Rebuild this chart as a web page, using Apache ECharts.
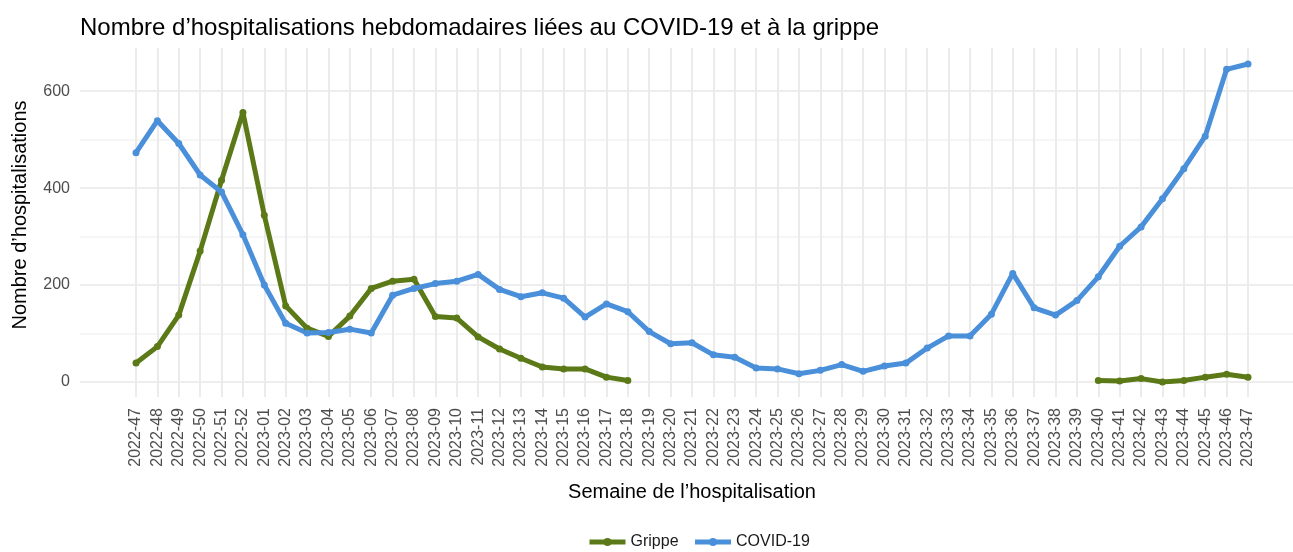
<!DOCTYPE html>
<html lang="fr">
<head>
<meta charset="UTF-8">
<title>Hospitalisations COVID-19 et grippe</title>
<style>
  * { margin: 0; }
  html, body, #chart { width: 1293px; height: 552px; background: #fff; }
</style>
</head>
<body>
<div id="chart"></div>
<script src="https://cdn.jsdelivr.net/npm/echarts@6/dist/echarts.min.js"></script>
<script>
var weeks = ['2022-47', '2022-48', '2022-49', '2022-50', '2022-51', '2022-52',
  '2023-01', '2023-02', '2023-03', '2023-04', '2023-05', '2023-06', '2023-07', '2023-08',
  '2023-09', '2023-10', '2023-11', '2023-12', '2023-13', '2023-14', '2023-15', '2023-16',
  '2023-17', '2023-18', '2023-19', '2023-20', '2023-21', '2023-22', '2023-23', '2023-24',
  '2023-25', '2023-26', '2023-27', '2023-28', '2023-29', '2023-30', '2023-31', '2023-32',
  '2023-33', '2023-34', '2023-35', '2023-36', '2023-37', '2023-38', '2023-39', '2023-40',
  '2023-41', '2023-42', '2023-43', '2023-44', '2023-45', '2023-46', '2023-47'];

var grippe = [39, 73, 138, 270, 416, 556,
  344, 157, 111, 94, 136, 193, 208, 212, 135, 132, 93, 68, 49, 31, 27, 27, 10, 3,
  null, null, null, null, null, null, null, null, null, null, null,
  null, null, null, null, null, null, null, null, null, null,
  3, 2, 7, 0, 3, 10, 16, 10];

var covid = [473, 539, 492, 427, 392, 304,
  200, 121, 101, 102, 109, 101, 179, 193, 203, 208, 222, 191, 176, 184, 173, 134,
  161, 145, 104, 79, 81, 56, 51, 29, 27, 17, 24, 36, 22, 33, 39, 70, 95, 95,
  140, 224, 153, 138, 168, 217, 280, 320, 378, 440, 507, 645, 656];

var yTicks = [0, 200, 400, 600];

var font = 'Liberation Sans, Arial, sans-serif';
var green = '#5b7a17';
var blue = '#4a8fd9';
var yMax = 689;

var chart = echarts.init(document.getElementById('chart'));

function lineSeries(name, data, color) {
  return {
    name: name,
    type: 'line',
    xAxisIndex: 1,
    yAxisIndex: 1,
    data: data,
    symbol: 'circle',
    symbolSize: 7,
    showSymbol: true,
    connectNulls: false,
    itemStyle: { color: color },
    lineStyle: { color: color, width: 5 },
    emphasis: { disabled: true },
    z: 3
  };
}

var option = {
  animation: false,
  textStyle: { fontFamily: font },
  title: {
    text: 'Nombre d’hospitalisations hebdomadaires liées au COVID-19 et à la grippe',
    left: 75,
    top: 11,
    textStyle: { fontFamily: font, fontSize: 24, fontWeight: 'normal', color: '#000' }
  },
  legend: {
    bottom: -3,
    left: 582,
    itemWidth: 36,
    itemHeight: 10,
    itemGap: 14,
    lineStyle: { width: 5 },
    textStyle: { fontFamily: font, fontSize: 16, color: '#1a1a1a' },
    data: ['Grippe', 'COVID-19']
  },
  grid: [
    // background panel (horizontal grid lines + y labels)
    { left: 80, right: 0, top: 48, bottom: 170, containLabel: false },
    // data panel
    { left: 136, right: 45, top: 48, bottom: 170, containLabel: false }
  ],
  xAxis: [
    { type: 'value', gridIndex: 0, show: false, min: 0, max: 1 },
    {
      type: 'category',
      gridIndex: 1,
      data: weeks,
      boundaryGap: false,
      axisLine: { show: false },
      axisTick: { show: true, length: 15, lineStyle: { color: '#ebebeb', width: 2 } },
      splitLine: { show: true, lineStyle: { color: '#ebebeb', width: 2 } },
      axisLabel: {
        interval: 0,
        rotate: 90,
        margin: 26,
        fontSize: 16,
        color: '#4d4d4d',
        fontFamily: font
      },
      name: 'Semaine de l’hospitalisation',
      nameLocation: 'middle',
      nameGap: 100,
      nameTextStyle: { fontSize: 20, color: '#000', fontFamily: font }
    }
  ],
  yAxis: [
    {
      type: 'value',
      gridIndex: 0,
      min: 0,
      max: yMax,
      interval: 100,
      axisLine: { show: false },
      axisTick: { show: false },
      axisLabel: {
        margin: 10,
        fontSize: 16,
        color: '#4d4d4d',
        fontFamily: font,
        formatter: function (v) { return yTicks.indexOf(v) >= 0 ? String(v) : ''; }
      },
      splitLine: {
        show: true,
        lineStyle: {
          width: 1.6,
          color: ['#e8e8e8', '#f3f3f3', '#e8e8e8', '#f3f3f3', '#e8e8e8', '#f3f3f3', '#e8e8e8', 'rgba(0,0,0,0)']
        }
      },
      name: 'Nombre d’hospitalisations',
      nameLocation: 'middle',
      nameGap: 50,
      nameTextStyle: { fontSize: 20, color: '#000', fontFamily: font }
    },
    {
      type: 'value',
      gridIndex: 1,
      min: 0,
      max: yMax,
      show: false,
      splitLine: { show: false }
    }
  ],
  series: [
    lineSeries('Grippe', grippe, green),
    lineSeries('COVID-19', covid, blue)
  ]
};

chart.setOption(option);
</script>
</body>
</html>
